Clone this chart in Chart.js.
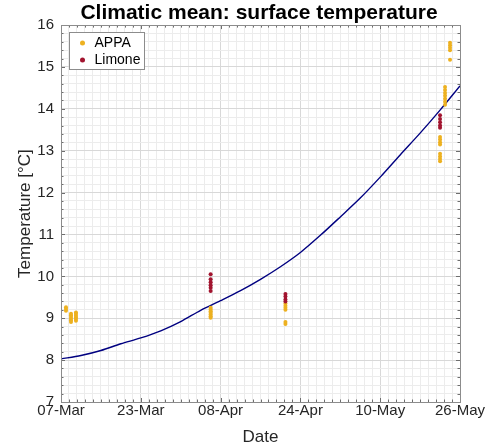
<!DOCTYPE html>
<html>
<head>
<meta charset="utf-8">
<script src="https://cdn.jsdelivr.net/npm/chart.js@4.4.0/dist/chart.umd.min.js"></script>
<style>
  html, body { margin: 0; padding: 0; background: #fff; }
  #wrap { width: 503px; height: 448px; }
</style>
</head>
<body>
<div id="wrap"><canvas id="cv" width="503" height="448"></canvas></div>
<script>
// ====== Data ======
const BASE_DATE = '2021-03-07';
const xTickLabels = ['07-Mar', '23-Mar', '08-Apr', '24-Apr', '10-May', '26-May'];

// climatic mean curve (days after 07-Mar)
const climDays  = [0, 4, 8, 12, 16, 20, 24, 28, 32, 36, 40, 44, 48, 52, 56, 60, 64, 68, 72, 76, 80];
const climTemps = [8.03, 8.11, 8.23, 8.39, 8.53, 8.70, 8.92, 9.19, 9.42, 9.66, 9.93, 10.23, 10.57, 10.98, 11.42, 11.87, 12.37, 12.90, 13.42, 13.97, 14.55];

// APPA observations
const appaDates = ['2021-03-08', '2021-03-09', '2021-03-10', '2021-04-06', '2021-04-21', '2021-05-22', '2021-05-23', '2021-05-24'];
const appaTemps = [
  [9.18, 9.22, 9.26],
  [8.91, 8.95, 8.99, 9.03, 9.07, 9.11],
  [8.94, 8.98, 9.02, 9.06, 9.10, 9.14],
  [9.01, 9.05, 9.09, 9.13, 9.17, 9.21, 9.25],
  [8.86, 8.91, 9.20, 9.25, 9.30, 9.35],
  [12.75, 12.80, 12.86, 12.93, 13.15, 13.20, 13.27, 13.33],
  [14.10, 14.17, 14.24, 14.31, 14.38, 14.45, 14.52],
  [15.17, 15.40, 15.46, 15.52, 15.58]
];

// Limone observations
const limoneDates = ['2021-04-06', '2021-04-21', '2021-05-22'];
const limoneTemps = [
  [9.65, 9.73, 9.79, 9.86, 9.93, 10.05],
  [9.40, 9.45, 9.52, 9.58],
  [13.55, 13.60, 13.68, 13.76, 13.85]
];

// ====== Utils ======
const FONT = '"Liberation Sans", Arial, Helvetica, sans-serif';
const dayOf = s => Math.round((Date.parse(s) - Date.parse(BASE_DATE)) / 86400000);
function toPoints(dates, temps){
  const out = [];
  dates.forEach((d, i) => temps[i].forEach(t => out.push({ x: dayOf(d), y: t })));
  return out;
}
const isMajorX = v => Math.abs(v / 16 - Math.round(v / 16)) < 1e-6;
const isMajorY = v => Math.abs(v - Math.round(v)) < 1e-6;

const COL_APPA = '#EDB120', COL_LIM = '#A2142F', COL_LINE = '#000080';
const COL_BOX = '#8c8c8c';

// ====== Box, inner ticks and legend ======
const framePlugin = {
  id: 'frame',
  afterDraw(chart){
    const { ctx, chartArea: a, scales } = chart;
    ctx.save();
    ctx.strokeStyle = '#6e6e6e';
    ctx.lineWidth = 1;
    ctx.beginPath();
    scales.x.ticks.forEach(t => {
      const px = Math.round(scales.x.getPixelForValue(t.value)) + 0.5;
      const len = isMajorX(t.value) ? 4 : 2.5;
      ctx.moveTo(px, a.bottom); ctx.lineTo(px, a.bottom - len);
      ctx.moveTo(px, a.top); ctx.lineTo(px, a.top + len);
    });
    scales.y.ticks.forEach(t => {
      const py = Math.round(scales.y.getPixelForValue(t.value)) + 0.5;
      const len = isMajorY(t.value) ? 4 : 2.5;
      ctx.moveTo(a.left, py); ctx.lineTo(a.left + len, py);
      ctx.moveTo(a.right, py); ctx.lineTo(a.right - len, py);
    });
    ctx.stroke();
    ctx.strokeStyle = COL_BOX;
    ctx.strokeRect(Math.round(a.left) + 0.5, Math.round(a.top) + 0.5, Math.round(a.right - a.left), Math.round(a.bottom - a.top));

    // legend inside the axes
    const lx = Math.round(a.left) + 8.5, ly = Math.round(a.top) + 7.5;
    ctx.fillStyle = '#fff';
    ctx.fillRect(lx, ly, 75, 37);
    ctx.strokeStyle = COL_BOX;
    ctx.strokeRect(lx, ly, 75, 37);
    const items = [['APPA', COL_APPA], ['Limone', COL_LIM]];
    ctx.font = '14px ' + FONT;
    ctx.textBaseline = 'middle';
    items.forEach(([label, col], i) => {
      const cy = ly + 10.5 + i * 17;
      ctx.fillStyle = col;
      ctx.beginPath(); ctx.arc(lx + 13, cy, 2.5, 0, Math.PI * 2); ctx.fill();
      ctx.fillStyle = '#000';
      ctx.fillText(label, lx + 25, cy + 0.5);
    });
    ctx.restore();
  }
};

// ====== Chart ======
new Chart(document.getElementById('cv'), {
  type: 'scatter',
  data: {
    datasets: [
      {
        label: 'Climatic mean', data: climDays.map((d, i) => ({ x: d, y: climTemps[i] })),
        showLine: true, borderColor: COL_LINE, borderWidth: 1.4, pointRadius: 0, tension: 0.3, order: 3
      },
      {
        label: 'APPA', data: toPoints(appaDates, appaTemps),
        backgroundColor: COL_APPA, borderWidth: 0, pointRadius: 2, order: 2
      },
      {
        label: 'Limone', data: toPoints(limoneDates, limoneTemps),
        backgroundColor: COL_LIM, borderWidth: 0, pointRadius: 2, order: 1
      }
    ]
  },
  options: {
    responsive: false,
    animation: false,
    layout: { padding: { left: 15, right: 0, top: 0, bottom: 0 } },
    plugins: {
      legend: { display: false },
      tooltip: { enabled: false },
      title: {
        display: true, text: 'Climatic mean: surface temperature', color: '#000',
        font: { family: FONT, size: 21, weight: 'bold', lineHeight: 1.1 }, padding: { top: 2, bottom: 0 }
      }
    },
    scales: {
      x: {
        type: 'linear', min: 0, max: 80,
        border: { display: false },
        grid: { color: c => isMajorX(c.tick.value) ? '#d8d8d8' : '#ececec', drawTicks: false },
        ticks: {
          stepSize: 1.6, autoSkip: false, maxRotation: 0, padding: 0,
          color: '#262626', font: { family: FONT, size: 15 },
          callback: v => isMajorX(v) ? xTickLabels[Math.round(v / 16)] : ''
        },
        title: { display: true, text: 'Date', color: '#262626', font: { family: FONT, size: 17 }, padding: { top: 0, bottom: 0 } },
        afterFit: s => { s.height = 46; }
      },
      y: {
        type: 'linear', min: 7, max: 16,
        border: { display: false },
        grid: { color: c => isMajorY(c.tick.value) ? '#d8d8d8' : '#ececec', drawTicks: false },
        ticks: {
          stepSize: 0.2, autoSkip: false, padding: 7,
          color: '#262626', font: { family: FONT, size: 15 },
          callback: v => isMajorY(v) ? String(Math.round(v)) : ''
        },
        title: { display: true, text: 'Temperature [°C]', color: '#262626', font: { family: FONT, size: 17 }, padding: { top: 0, bottom: 0 } },
        afterFit: s => { s.width = 46; }
      },
      y2: {
        type: 'linear', position: 'right', min: 7, max: 16,
        border: { display: false },
        grid: { display: false },
        ticks: { display: false },
        afterFit: s => { s.width = 43; }
      }
    }
  },
  plugins: [framePlugin]
});
</script>
</body>
</html>
